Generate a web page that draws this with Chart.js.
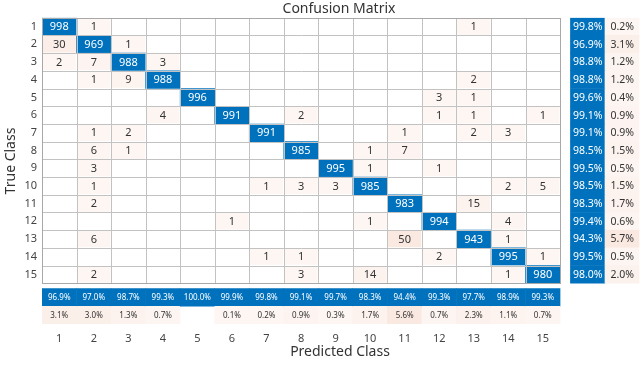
<!DOCTYPE html>
<html>
<head>
<meta charset="utf-8">
<script src="https://cdn.jsdelivr.net/npm/chart.js@4.4.0/dist/chart.umd.min.js"></script>
<style>
  html, body { margin: 0; background: #fff; }
  #wrap { position: relative; width: 640px; height: 377px; }
</style>
</head>
<body>
<div id="wrap"><canvas id="cm" width="640" height="377"></canvas></div>
<script>
const classLabels = ['1','2','3','4','5','6','7','8','9','10','11','12','13','14','15'];

// rows = true class, columns = predicted class
const counts = [
  [998,   1,   0,   0,   0,   0,   0,   0,   0,   0,   0,   0,   1,   0,   0],
  [ 30, 969,   1,   0,   0,   0,   0,   0,   0,   0,   0,   0,   0,   0,   0],
  [  2,   7, 988,   3,   0,   0,   0,   0,   0,   0,   0,   0,   0,   0,   0],
  [  0,   1,   9, 988,   0,   0,   0,   0,   0,   0,   0,   0,   2,   0,   0],
  [  0,   0,   0,   0, 996,   0,   0,   0,   0,   0,   0,   3,   1,   0,   0],
  [  0,   0,   0,   4,   0, 991,   0,   2,   0,   0,   0,   1,   1,   0,   1],
  [  0,   1,   2,   0,   0,   0, 991,   0,   0,   0,   1,   0,   2,   3,   0],
  [  0,   6,   1,   0,   0,   0,   0, 985,   0,   1,   7,   0,   0,   0,   0],
  [  0,   3,   0,   0,   0,   0,   0,   0, 995,   1,   0,   1,   0,   0,   0],
  [  0,   1,   0,   0,   0,   0,   1,   3,   3, 985,   0,   0,   0,   2,   5],
  [  0,   2,   0,   0,   0,   0,   0,   0,   0,   0, 983,   0,  15,   0,   0],
  [  0,   0,   0,   0,   0,   1,   0,   0,   0,   1,   0, 994,   0,   4,   0],
  [  0,   6,   0,   0,   0,   0,   0,   0,   0,   0,  50,   0, 943,   1,   0],
  [  0,   0,   0,   0,   0,   0,   1,   1,   0,   0,   0,   2,   0, 995,   1],
  [  0,   2,   0,   0,   0,   0,   0,   3,   0,  14,   0,   0,   0,   1, 980]
];

// row summary (right) and column summary (bottom), in percent
const truePct  = [99.8, 96.9, 98.8, 98.8, 99.6, 99.1, 99.1, 98.5, 99.5, 98.5, 98.3, 99.4, 94.3, 99.5, 98.0];
const trueErr  = [0.2, 3.1, 1.2, 1.2, 0.4, 0.9, 0.9, 1.5, 0.5, 1.5, 1.7, 0.6, 5.7, 0.5, 2.0];
const predPct  = [96.9, 97.0, 98.7, 99.3, 100.0, 99.9, 99.8, 99.1, 99.7, 98.3, 94.4, 99.3, 97.7, 98.9, 99.3];
const predErr  = [3.1, 3.0, 1.3, 0.7, 0, 0.1, 0.2, 0.9, 0.3, 1.7, 5.6, 0.7, 2.3, 1.1, 0.7];

const BLUE = 'rgb(0,114,189)';
const n = classLabels.length;
const gap = 0.3;               // space between matrix and summaries (in cell units)
const sum1 = n + 0.5 + gap + 0.5;
const sum2 = sum1 + 1;

function pink(v, full) {
  const a = 0.05 + 0.08 * Math.min(v / full, 1);
  const mix = (c) => Math.round(255 - a * (255 - c));
  return `rgb(${mix(217)},${mix(83)},${mix(25)})`;
}

const fmt = v => v.toFixed(1) + '%';

// main matrix cells
const cells = [], cellColors = [], cellTexts = [], cellTextColors = [], cellBorders = [], cellBorderColors = [];
counts.forEach((row, r) => {
  row.forEach((v, c) => {
    if (!v) return;
    cells.push({ x: c + 1, y: [r + 0.5, r + 1.5] });
    const diag = r === c;
    cellColors.push(diag ? BLUE : pink(v, 50));
    cellBorders.push(diag ? 0 : 1);
    cellBorderColors.push(diag ? BLUE : '#fff');
    cellTexts.push(String(v));
    cellTextColors.push(diag ? '#fff' : '#333');
  });
});

// right-hand summary (per true class)
const rowSum = [], rowColors = [], rowTexts = [], rowTextColors = [];
truePct.forEach((p, r) => {
  rowSum.push({ x: sum1, y: [r + 0.5, r + 1.5] });
  rowColors.push(BLUE); rowTexts.push(fmt(p)); rowTextColors.push('#fff');
  rowSum.push({ x: sum2, y: [r + 0.5, r + 1.5] });
  rowColors.push(pink(trueErr[r], 5.7)); rowTexts.push(fmt(trueErr[r])); rowTextColors.push('#333');
});

// bottom summary (per predicted class)
const colSum = [], colColors = [], colTexts = [], colTextColors = [];
predPct.forEach((p, c) => {
  colSum.push({ x: c + 1, y: [sum1 - 0.5, sum1 + 0.5] });
  colColors.push(BLUE); colTexts.push(fmt(p)); colTextColors.push('#fff');
  if (predErr[c] > 0) {
    colSum.push({ x: c + 1, y: [sum2 - 0.5, sum2 + 0.5] });
    colColors.push(pink(predErr[c], 5.6)); colTexts.push(fmt(predErr[c])); colTextColors.push('#333');
  }
});

const FONT = "'Noto Sans', 'Open Sans', sans-serif";

const gridAndLabels = {
  id: 'gridAndLabels',
  afterDatasetsDraw(chart) {
    const { ctx, scales: { x, y } } = chart;
    ctx.save();
    // grid of the matrix
    ctx.strokeStyle = '#c2c2c2';
    ctx.lineWidth = 1;
    const top = Math.round(y.getPixelForValue(0.5)) + 0.5;
    const bot = Math.round(y.getPixelForValue(n + 0.5)) + 0.5;
    const lft = Math.round(x.getPixelForValue(0.5)) + 0.5;
    const rgt = Math.round(x.getPixelForValue(n + 0.5)) + 0.5;
    ctx.beginPath();
    for (let i = 0; i <= n; i++) {
      const px = Math.round(x.getPixelForValue(i + 0.5)) + 0.5;
      ctx.moveTo(px, top); ctx.lineTo(px, bot);
      const py = Math.round(y.getPixelForValue(i + 0.5)) + 0.5;
      ctx.moveTo(lft, py); ctx.lineTo(rgt, py);
    }
    ctx.stroke();
    ctx.strokeStyle = '#a8a8a8';
    ctx.strokeRect(lft, top, rgt - lft, bot - top);

    // cell texts
    ctx.textAlign = 'center';
    ctx.textBaseline = 'middle';
    chart.data.datasets.forEach((ds, di) => {
      const meta = chart.getDatasetMeta(di);
      ctx.font = ds.labelFont + 'px ' + FONT;
      meta.data.forEach((el, i) => {
        const pt = el.getCenterPoint();
        ctx.fillStyle = ds.textColors[i];
        ctx.fillText(ds.texts[i], pt.x, pt.y + 0.5);
      });
    });

    // titles
    ctx.fillStyle = '#333';
    ctx.font = '14px ' + FONT;
    ctx.fillText('Confusion Matrix', 339, 9);
    ctx.fillText('Predicted Class', 340, 352);
    ctx.translate(11, 161);
    ctx.rotate(-Math.PI / 2);
    ctx.fillText('True Class', 0, 0);
    ctx.restore();
  }
};

const intTicks = scale => { scale.ticks = classLabels.map((l, i) => ({ value: i + 1 })); };

new Chart(document.getElementById('cm'), {
  type: 'bar',
  data: {
    datasets: [
      { data: cells, backgroundColor: cellColors, texts: cellTexts, textColors: cellTextColors, labelFont: 11,
        borderColor: cellBorderColors, borderWidth: cellBorders },
      { data: rowSum, backgroundColor: rowColors, texts: rowTexts, textColors: rowTextColors, labelFont: 10.5, borderWidth: 0 },
      { data: colSum, backgroundColor: colColors, texts: colTexts, textColors: colTextColors, labelFont: 8, borderWidth: 0 }
    ]
  },
  options: {
    responsive: false,
    animation: false,
    devicePixelRatio: 1,
    layout: { padding: { top: 17.7, right: 0.5, left: 0, bottom: 0 } },
    datasets: {
      bar: { grouped: false, barPercentage: 1, categoryPercentage: 1, borderSkipped: false, inflateAmount: 0.3 }
    },
    plugins: { legend: { display: false }, tooltip: { enabled: false }, title: { display: false } },
    scales: {
      x: {
        type: 'linear', min: 0.5, max: sum2 + 0.5, offset: false,
        afterBuildTicks: intTicks,
        afterFit: s => { s.height = 53; },
        grid: { display: false, drawTicks: false, offset: false }, border: { display: false },
        ticks: { padding: 8, color: '#444', font: { size: 11, family: FONT }, maxRotation: 0,
                 autoSkip: false, callback: v => classLabels[v - 1] }
      },
      y: {
        type: 'linear', reverse: true, min: 0.5, max: sum2 + 0.5, offset: false,
        afterBuildTicks: intTicks,
        afterFit: s => { s.width = 42; },
        grid: { display: false, drawTicks: false }, border: { display: false },
        ticks: { padding: 5, color: '#444', font: { size: 11, family: FONT },
                 autoSkip: false, callback: v => classLabels[v - 1] }
      }
    }
  },
  plugins: [gridAndLabels]
});
</script>
</body>
</html>
